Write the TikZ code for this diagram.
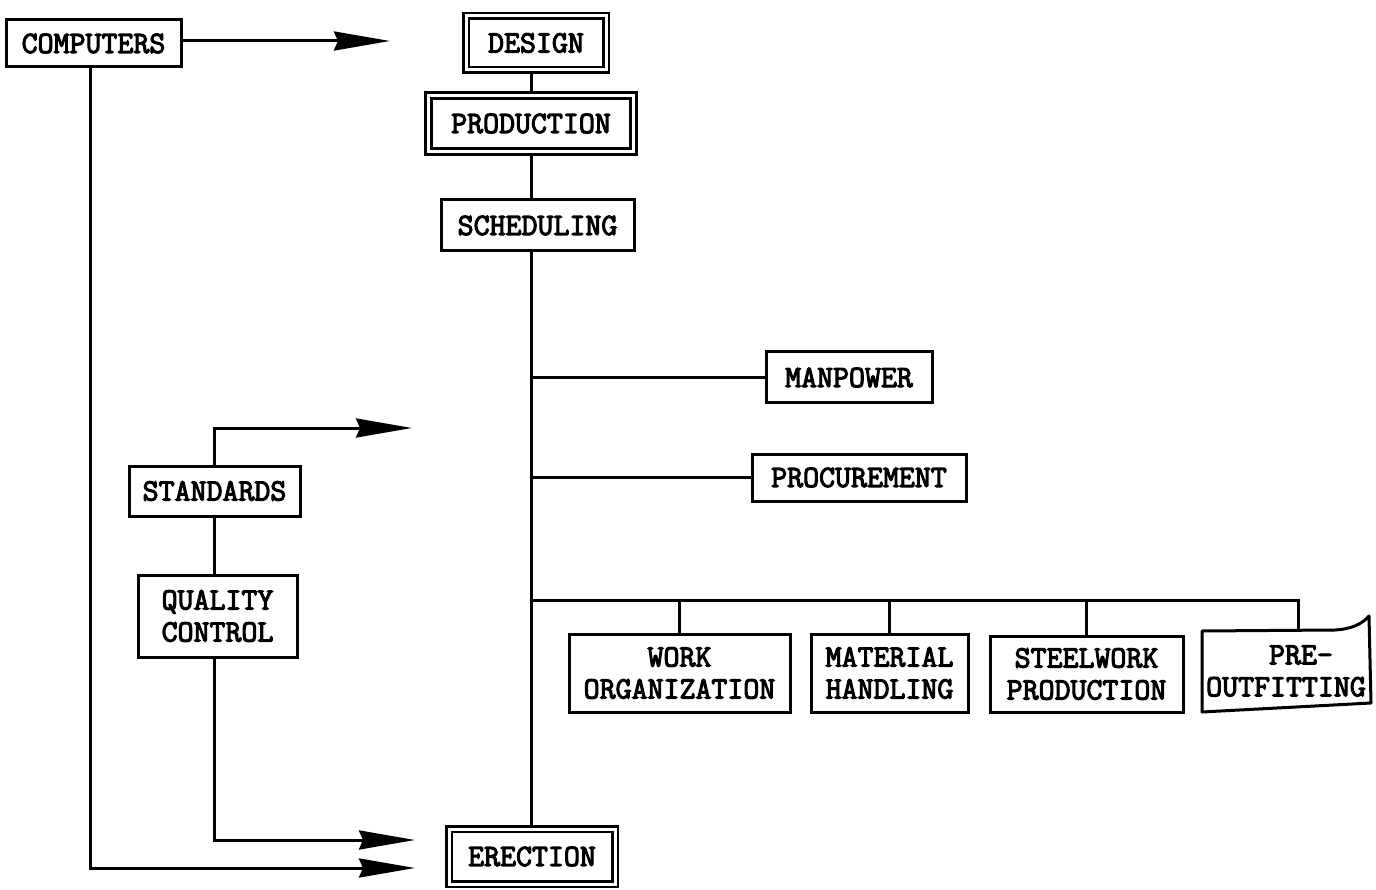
\documentclass[tikz,border=0pt]{standalone}
\usepackage{fontspec}
\setmonofont{Latin Modern Mono}[AutoFakeBold=3.5]
\usetikzlibrary{arrows.meta}
\tikzset{
  box/.style={draw, line width=3pt, font=\ttfamily\bfseries\fontsize{31}{32}\selectfont, align=center, inner sep=0pt},
  dbox/.style={box, line width=2.6pt, double, double distance=3pt},
  conn/.style={line width=3pt},
  arr/.style={conn, -{Stealth[length=56pt,width=19pt,inset=4pt]}}
}
\begin{document}
\begin{tikzpicture}[x=1pt,y=-1pt]
\useasboundingbox (0,0) rectangle (1376,890);
% nodes
\node[box, minimum width=175pt, minimum height=47pt] (computers) at (93.5,43.5) {COMPUTERS};
\node[dbox, minimum width=140pt, minimum height=54pt] (design) at (536,43) {DESIGN};
\node[dbox, minimum width=205pt, minimum height=56pt] (production) at (531,123.5) {PRODUCTION};
\node[box, minimum width=193pt, minimum height=51pt] (scheduling) at (537.5,225.5) {SCHEDULING};
\node[box, minimum width=166pt, minimum height=51pt] (manpower) at (849,377.5) {MANPOWER};
\node[box, minimum width=214pt, minimum height=47pt] (procurement) at (859,477.5) {PROCUREMENT};
\node[box, minimum width=221pt, minimum height=78pt] (workorg) at (679.5,673) {WORK\\ORGANIZATION};
\node[box, minimum width=157pt, minimum height=78pt] (material) at (889.5,673) {MATERIAL\\HANDLING};
\node[box, minimum width=193pt, minimum height=76pt] (steelwork) at (1086.5,674) {STEELWORK\\PRODUCTION};
\node[box, draw=none, minimum width=168pt, minimum height=80pt] (preout) at (1286,671) {\hspace*{30pt}PRE-\\OUTFITTING};
\node[dbox, minimum width=166pt, minimum height=55pt] (erection) at (532,856.5) {ERECTION};
\node[box, minimum width=171pt, minimum height=50pt] (standards) at (214.5,491) {STANDARDS};
\node[box, minimum width=159pt, minimum height=82pt] (quality) at (217.5,616) {QUALITY\\CONTROL};
% PRE-OUTFITTING box outline (curled corner)
\draw[conn, line join=round] (1202,712) -- (1202,631) -- (1335,630)
  .. controls (1352,629) and (1362,624) .. (1369,616) -- (1371,703) -- cycle;
% coordinates
\coordinate (spine) at (531,0);
\coordinate (bus) at (531,600);
\coordinate (busR) at (1298,600);
\coordinate (preTop) at (1298,630);
\coordinate (a1) at (390,41);
\coordinate (a2) at (412,428);
\coordinate (a3) at (415,840);
\coordinate (a4) at (415,868);
% spine connectors
\draw[conn] (production.north -| spine) -- (design.south -| spine);
\draw[conn] (production.south -| spine) -- (scheduling.north -| spine);
\draw[conn] (scheduling.south -| spine) -- (erection.north -| spine);
\draw[conn] (manpower.west) -- (manpower.west -| spine);
\draw[conn] (procurement.west) -- (procurement.west -| spine);
\draw[conn] (bus) -- (busR) -- (preTop);
\draw[conn] (workorg.north) -- (workorg.north |- bus);
\draw[conn] (material.north) -- (material.north |- bus);
\draw[conn] (steelwork.north) -- (steelwork.north |- bus);
% arrows
\draw[arr] (computers.east |- a1) -- (a1);
\draw[arr] ([xshift=-3.5pt]computers.south) |- (a4);
\draw[arr] (standards.north) |- (a2);
\draw[conn] (standards.south) -- (standards.south |- quality.north);
\draw[arr] (standards.south |- quality.south) |- (a3);
\end{tikzpicture}
\end{document}
